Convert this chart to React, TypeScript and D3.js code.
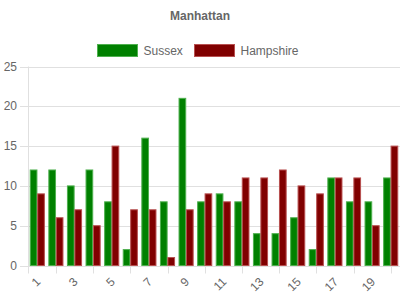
import React from "react";
import * as d3 from "d3";

const categories = ["1","2","3","4","5","6","7","8","9","10","11","12","13","14","15","16","17","18","19","20"];
const sussex = [12,12,10,12,8,2,16,8,21,8,9,8,4,4,6,2,11,8,8,11];
const hampshire = [9,6,7,5,15,7,7,1,7,9,8,11,11,12,10,9,11,11,5,15];
const yTicks = [0,5,10,15,20,25];
const seriesNames = ["Sussex","Hampshire"];
const seriesColors = ["#008000","#800000"];
const seriesBorders = ["#4fb04f","#b85050"];

const FONT = "'Liberation Sans', Arial, Helvetica, sans-serif";

export default function App() {
  const W = 400, H = 300;
  const left = 28, right = 400, top = 66.5, bottom = 265.5;
  const x = d3.scaleBand().domain(categories).range([left, right]).paddingInner(0).paddingOuter(0);
  const y = d3.scaleLinear().domain([0, 25]).range([bottom, top]);
  const inner = d3.scaleBand().domain(seriesNames).range([0, x.bandwidth() * 0.8]);
  const barW = inner.bandwidth() * 0.9;
  const data = [sussex, hampshire];
  return (
    <svg width={W} height={H} style={{ position: "absolute", left: 0, top: 0 }} fontFamily={FONT}>
      <text x={200} y={20} textAnchor="middle" fontSize={12} fontWeight="bold" fill="#666">Manhattan</text>
      {seriesNames.map((n, i) => {
        const bx = i === 0 ? 97.5 : 194.5;
        return (
          <g key={n}>
            <rect x={bx} y={44.5} width={40} height={12} fill={seriesColors[i]} stroke={seriesBorders[i]} strokeWidth={1} />
            <text x={bx + 46} y={54.5} fontSize={12} fill="#666">{n}</text>
          </g>
        );
      })}
      {yTicks.map((t) => (
        <g key={t}>
          <line x1={20} x2={right} y1={Math.round(y(t)) + 0.5} y2={Math.round(y(t)) + 0.5} stroke="#e0e0e0" strokeWidth={1} />
          <text x={17} y={y(t) + 4} textAnchor="end" fontSize={12} fill="#666">{t}</text>
        </g>
      ))}
      <line x1={left + 0.5} x2={left + 0.5} y1={top} y2={bottom + 8} stroke="#e0e0e0" />
      {categories.map((c, i) =>
        i % 2 === 1 ? (
          <line key={"t" + c} x1={Math.round(x(c)! + x.bandwidth() / 2) + 0.5} x2={Math.round(x(c)! + x.bandwidth() / 2) + 0.5} y1={bottom} y2={bottom + 8} stroke="#e0e0e0" />
        ) : null
      )}
      {data.map((vals, si) =>
        vals.map((v, ci) => {
          const cx = x(categories[ci])! + x.bandwidth() * 0.1 + inner(seriesNames[si])! + (inner.bandwidth() - barW) / 2;
          return (
            <rect key={si + "-" + ci} x={cx} y={y(v)} width={barW} height={y(0) - y(v)} fill={seriesColors[si]} stroke={seriesBorders[si]} strokeWidth={1} />
          );
        })
      )}
      {categories.map((c, i) =>
        i % 2 === 0 ? (
          <text key={"l" + c} transform={`translate(${x(c)! + x.bandwidth() / 2 + 4},${bottom + 17}) rotate(-45)`} textAnchor="end" fontSize={12} fill="#666">{c}</text>
        ) : null
      )}
    </svg>
  );
}
